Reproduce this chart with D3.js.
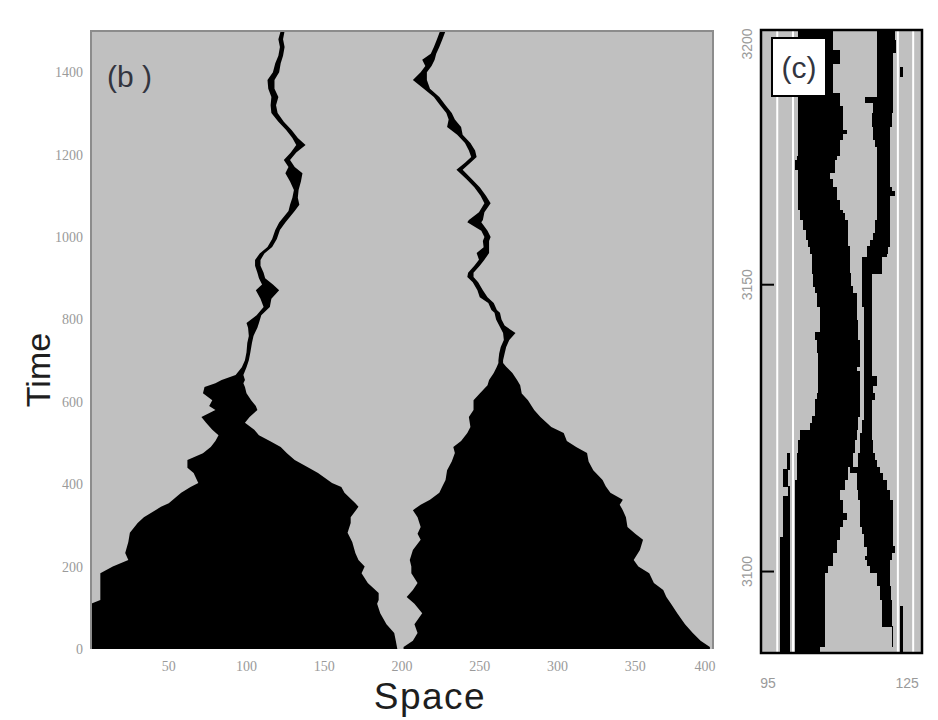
<!DOCTYPE html>
<html>
<head>
<meta charset="utf-8">
<script src="https://cdn.jsdelivr.net/npm/d3@7/dist/d3.min.js"></script>
<style>
  html, body { margin: 0; padding: 0; background: #ffffff; }
  svg { display: block; }
  .tick-b { font-family: "Liberation Serif", "DejaVu Serif", serif; font-size: 14px; fill: #9a9a9a; }
  .tick-c { font-family: "Liberation Sans", Arial, sans-serif; font-size: 14px; fill: #9a9a9a; }
</style>
</head>
<body>
<svg id="chart" width="938" height="720"></svg>
<script>
// ---------- Panel (b): space-time diagram, rows are [time, leftEdge, rightEdge] ----------
const spaceTicks = [50, 100, 150, 200, 250, 300, 350, 400];
const timeTicks = [0, 200, 400, 600, 800, 1000, 1200, 1400];

// black domain grown from the left seed (cone, then a wandering wall)
const leftFront = [
  [0, 0, 197], [20, 0, 196], [39, 0, 195], [60, 0, 190], [87, 0, 186], [110, 0, 184],
  [119, 6, 185], [136, 6, 185], [160, 6, 178], [184, 6, 174], [200, 14, 176], [216, 24, 172],
  [233, 22, 170], [260, 24, 168], [282, 25, 165], [306, 30, 167], [320, 34, 167], [345, 45, 172],
  [354, 50, 170], [379, 58, 163], [393, 64, 161], [403, 69, 155], [427, 66, 146], [440, 62, 140],
  [459, 62, 131], [475, 72, 126], [490, 77, 122], [505, 80, 115], [519, 82, 108], [532, 78, 105],
  [549, 74, 99], [563, 71, 102], [580, 80, 107], [590, 76, 106], [604, 78, 103], [621, 72, 100],
  [636, 73, 99], [645, 80, 98], [653, 84, 99], [665, 93, 98], [684, 97, 100], [701, 99, 101.5],
  [720, 100, 102.5], [743, 100.5, 103.5], [760, 101.5, 104.5], [780, 101, 107], [791, 100, 108],
  [810, 106.5, 109.5], [830, 111, 115], [850, 109, 116], [871, 106, 121], [885, 110, 117],
  [900, 108, 112], [913, 107, 111], [930, 105.5, 109], [944, 105.5, 109], [960, 108.5, 111.5],
  [976, 113.5, 116.5], [995, 116.5, 119.5], [1017, 118.5, 121.5], [1035, 121, 125],
  [1049, 124, 128], [1063, 127, 131], [1078, 128, 134], [1095, 129.5, 133], [1114, 130.5, 133.5],
  [1135, 128, 135], [1155, 125, 136], [1170, 127, 131], [1187, 124, 128], [1205, 128.5, 132],
  [1223, 132, 138], [1240, 129.5, 133], [1260, 125.5, 129], [1280, 120.5, 124], [1301, 116, 120],
  [1320, 115.5, 119], [1340, 116, 120.5], [1360, 114, 118], [1381, 113.5, 118], [1400, 117, 121],
  [1422, 118.5, 122], [1440, 120.5, 123.5], [1461, 121.5, 124.5], [1480, 120.5, 123.5],
  [1500, 122, 124.5]
];

// black domain grown from the right seed
const rightFront = [
  [0, 201, 398], [5, 201, 398], [20, 207, 392], [39, 210, 387], [60, 208, 382], [87, 213, 377],
  [110, 208, 373], [126, 203, 370], [143, 207, 368], [160, 210, 362], [184, 206, 359],
  [200, 206, 352], [216, 205, 349], [240, 207, 353], [265, 212, 355], [280, 210, 350],
  [296, 212, 345], [320, 210, 344], [337, 207, 342], [350, 212, 340], [362, 218, 342],
  [379, 224, 334], [395, 226, 331], [410, 228, 329], [434, 229, 323], [455, 232, 320],
  [476, 234, 319], [490, 233, 312], [505, 238, 306], [524, 242, 304], [539, 244, 296],
  [563, 243, 289], [580, 246, 285], [604, 246, 281], [620, 250, 277], [640, 255, 276],
  [653, 256, 274], [670, 259, 271], [685, 261, 267], [694, 262, 265], [701, 262, 265],
  [717, 262.5, 266], [733, 263.5, 267], [750, 265.5, 269], [767, 265, 273], [785, 262.5, 266],
  [800, 260.5, 264], [816, 259.5, 263], [823, 257.5, 261], [840, 255.5, 259], [854, 250, 255],
  [871, 248.5, 252], [890, 245.5, 249], [903, 242, 246], [913, 242.5, 246], [930, 246.5, 250],
  [945, 249.5, 253], [961, 248, 256], [975, 252.5, 256], [990, 252, 256], [1000, 253, 257],
  [1015, 251, 255], [1036, 242, 251], [1041, 243, 252], [1060, 249.5, 253], [1082, 253, 257],
  [1100, 250.5, 254], [1121, 246.5, 250], [1140, 241.5, 245], [1163, 235, 239], [1180, 240.5, 244],
  [1194, 244.5, 248], [1210, 243, 247], [1228, 240.5, 244], [1248, 235.5, 239], [1267, 229, 238],
  [1285, 230, 234], [1301, 228.5, 232], [1320, 224.5, 228], [1340, 220.5, 224], [1360, 214, 218],
  [1381, 207, 216], [1400, 212, 216], [1415, 215, 219], [1430, 213, 221], [1445, 218.5, 222],
  [1461, 220.5, 224], [1480, 222.5, 226], [1500, 224.5, 228]
];

// ---------- Panel (c): close-up, rows are [time, left, right], held down to the next row ----------
const zoomSpaceTicks = [95, 125];
const zoomTimeTicks = [3100, 3150];
const zoomTimeLabels = [3100, 3150, 3200];
const zoomGuides = [97.0, 100.4, 123.0, 126.3];

const zoomBandMain = [
  [3194.4, 101.5, 109.1], [3190.9, 101.5, 110.5], [3188.6, 101.5, 109.1], [3183.4, 101.5, 110.5],
  [3181.1, 101.5, 111.2], [3177.0, 101.5, 112.0], [3176.4, 101.5, 111.2], [3175.3, 101.5, 110.5],
  [3172.5, 101.2, 109.8], [3171.8, 100.8, 109.4], [3170.0, 101.5, 109.4], [3169.5, 101.5, 108.4],
  [3168.5, 101.5, 109.1], [3167.1, 101.5, 109.8], [3164.8, 101.5, 110.5], [3163.1, 101.9, 111.2],
  [3162.5, 101.9, 111.6], [3161.3, 102.6, 112.3], [3159.6, 103.3, 112.3], [3157.8, 103.7, 112.3],
  [3156.7, 104.1, 112.7], [3155.5, 104.4, 112.7], [3152.0, 104.8, 113.0], [3149.7, 105.1, 113.4],
  [3148.6, 105.5, 114.1], [3146.2, 106.2, 114.1], [3143.9, 106.2, 114.5], [3141.8, 105.1, 114.5],
  [3140.4, 105.5, 114.8], [3138.1, 105.8, 114.8], [3135.8, 105.8, 114.1], [3135.0, 105.8, 114.8],
  [3131.1, 105.5, 114.8], [3130.0, 105.1, 114.8], [3127.1, 104.4, 114.5], [3125.9, 104.1, 114.5],
  [3124.7, 101.9, 114.1], [3123.0, 101.5, 113.8], [3120.7, 101.2, 113.4], [3118.3, 101.2, 112.3],
  [3116.0, 100.8, 111.6], [3114.3, 100.8, 110.5], [3112.5, 100.8, 111.2], [3110.2, 100.8, 112.0],
  [3109.0, 100.8, 111.2], [3107.9, 100.8, 110.5], [3105.6, 100.8, 109.8], [3103.3, 100.8, 109.1],
  [3101.0, 100.8, 108.0], [3099.8, 100.8, 107.3], [3088.2, 100.8, 107.3], [3087.0, 100.8, 106.2],
  [3085.8, 100.8, 100.8]
];

const zoomBandLeft = [
  [3120.7, 99.0, 99.75], [3117.8, 98.3, 99.3], [3114.9, 99.3, 99.75], [3113.1, 98.3, 99.75],
  [3106.0, 97.6, 99.75], [3085.8, 97.6, 97.6]
];

const zoomBandRight = [
  [3194.4, 118.4, 122.4], [3192.7, 118.4, 122.7], [3190.4, 118.4, 122.0], [3182.8, 116.0, 122.0],
  [3181.7, 117.7, 122.0], [3180.0, 117.4, 121.7], [3177.6, 117.7, 121.3], [3175.3, 118.1, 121.3],
  [3174.1, 118.4, 121.3], [3167.1, 118.4, 121.7], [3166.3, 118.4, 122.4], [3165.5, 118.4, 121.3],
  [3161.3, 118.1, 121.3], [3159.0, 117.7, 121.3], [3157.8, 117.0, 121.3], [3156.7, 116.3, 120.9],
  [3155.5, 116.3, 120.6], [3154.9, 115.2, 119.5], [3152.0, 115.2, 117.4], [3146.2, 115.6, 117.4],
  [3140.4, 115.6, 117.4], [3134.0, 115.6, 118.4], [3132.5, 115.6, 117.7], [3131.1, 115.6, 118.1],
  [3130.0, 115.6, 117.4], [3126.5, 115.2, 117.4], [3124.2, 114.8, 117.4], [3123.0, 114.8, 117.7],
  [3120.7, 114.5, 118.1], [3119.5, 114.5, 118.4], [3118.3, 112.7, 119.2], [3117.2, 114.1, 119.9],
  [3116.0, 114.1, 120.6], [3114.3, 114.5, 121.3], [3112.5, 114.8, 122.0], [3107.9, 115.2, 122.0],
  [3106.7, 115.6, 122.0], [3104.4, 116.3, 122.4], [3103.3, 116.3, 121.7], [3102.7, 115.9, 121.7],
  [3102.1, 116.3, 121.3], [3101.0, 117.0, 121.3], [3099.8, 118.4, 121.3], [3097.5, 119.2, 121.5],
  [3095.1, 119.5, 121.7], [3090.5, 121.7, 122.0], [3087.0, 121.7, 121.7]
];

const zoomSpeckTop = [[3188.0, 123.5, 124.2], [3186.3, 123.5, 123.5]];
const zoomSpeckBottom = [[3094.0, 123.5, 124.2], [3085.8, 123.5, 123.5]];

// ---------- drawing ----------
const svg = d3.select("#chart");
const GREY = "#c0c0c0";

// Panel (b)
const xB = d3.scaleLinear().domain([0, 400]).range([91, 713]);
const yB = d3.scaleLinear().domain([0, 1500]).range([649, 31]);

svg.append("clipPath").attr("id", "clipB")
  .append("rect")
  .attr("x", xB(0)).attr("y", yB(1500))
  .attr("width", xB(400) - xB(0)).attr("height", yB(0) - yB(1500));

const gB = svg.append("g");
gB.append("rect")
  .attr("x", xB(0)).attr("y", yB(1500))
  .attr("width", xB(400) - xB(0)).attr("height", yB(0) - yB(1500))
  .attr("fill", GREY);

const frontArea = d3.area()
  .y(d => yB(d[0]))
  .x0(d => xB(d[1]))
  .x1(d => xB(d[2]))
  .curve(d3.curveLinear);

const gFronts = gB.append("g").attr("clip-path", "url(#clipB)");
[leftFront, rightFront].forEach(front => {
  gFronts.append("path").attr("d", frontArea(front)).attr("fill", "#000");
});

// frame of panel (b)
gB.append("path")
  .attr("d", `M${xB(0)},${yB(0)}V${yB(1500)}H${xB(400)}V${yB(0)}`)
  .attr("fill", "none").attr("stroke", "#8c8c8c").attr("stroke-width", 2);

gB.selectAll(".ty").data(timeTicks).join("text")
  .attr("class", "tick-b")
  .attr("x", 83).attr("y", d => yB(d)).attr("dy", "0.35em")
  .attr("text-anchor", "end")
  .text(d => d);

gB.selectAll(".tx").data(spaceTicks).join("text")
  .attr("class", "tick-b")
  .attr("x", d => Math.min(xB(d), 705)).attr("y", 671)
  .attr("text-anchor", "middle")
  .text(d => d);

gB.append("text")
  .attr("x", 107).attr("y", 87)
  .attr("font-family", "Liberation Sans, Arial, sans-serif")
  .attr("font-size", 30).attr("fill", "#33353f")
  .text("(b )");

svg.append("text")
  .attr("x", 430).attr("y", 709)
  .attr("text-anchor", "middle")
  .attr("font-family", "Liberation Sans, Arial, sans-serif")
  .attr("font-size", 37).attr("letter-spacing", 1.5).attr("fill", "#1e1e1e")
  .text("Space");

svg.append("text")
  .attr("transform", "translate(50,370) rotate(-90)")
  .attr("text-anchor", "middle")
  .attr("font-family", "Liberation Sans, Arial, sans-serif")
  .attr("font-size", 34).attr("fill", "#1e1e1e")
  .text("Time");

// Panel (c)
const xC = d3.scaleLinear().domain([93.5, 128.2]).range([761, 922]);
const yC = d3.scaleLinear().domain([3085.8, 3194.4]).range([653, 30]);

const gC = svg.append("g");
gC.append("rect")
  .attr("x", xC(93.5)).attr("y", yC(3194.4))
  .attr("width", xC(128.2) - xC(93.5)).attr("height", yC(3085.8) - yC(3194.4))
  .attr("fill", GREY);

gC.selectAll(".guide").data(zoomGuides).join("line")
  .attr("x1", d => xC(d)).attr("x2", d => xC(d))
  .attr("y1", yC(3194.4)).attr("y2", yC(3085.8))
  .attr("stroke", "#ffffff").attr("stroke-width", 2);

function drawBand(rows) {
  const cells = rows.slice(0, -1).map((r, i) => ({ t0: r[0], t1: rows[i + 1][0], l: r[1], r: r[2] }));
  gC.append("g").selectAll("rect").data(cells).join("rect")
    .attr("x", d => xC(d.l))
    .attr("y", d => yC(d.t0))
    .attr("width", d => xC(d.r) - xC(d.l))
    .attr("height", d => yC(d.t1) - yC(d.t0) + 0.5)
    .attr("fill", "#000")
    .attr("shape-rendering", "crispEdges");
}
[zoomBandMain, zoomBandLeft, zoomBandRight, zoomSpeckTop, zoomSpeckBottom].forEach(drawBand);

gC.selectAll(".tickc").data(zoomTimeTicks).join("line")
  .attr("x1", xC(93.5)).attr("x2", xC(93.5) + 13)
  .attr("y1", d => yC(d)).attr("y2", d => yC(d))
  .attr("stroke", "#000").attr("stroke-width", 2);

gC.append("rect")
  .attr("x", xC(93.5)).attr("y", yC(3194.4))
  .attr("width", xC(128.2) - xC(93.5)).attr("height", yC(3085.8) - yC(3194.4))
  .attr("fill", "none").attr("stroke", "#000").attr("stroke-width", 2.5);

gC.selectAll(".ly").data(zoomTimeLabels).join("text")
  .attr("class", "tick-c")
  .attr("transform", d => `translate(752,${Math.max(yC(d), 44)}) rotate(-90)`)
  .attr("text-anchor", "middle")
  .text(d => d);

gC.selectAll(".lx").data(zoomSpaceTicks).join("text")
  .attr("class", "tick-c")
  .attr("font-size", 16)
  .attr("x", d => xC(d)).attr("y", 688)
  .attr("text-anchor", "middle")
  .text(d => d);

// label box for (c)
gC.append("rect")
  .attr("x", 772).attr("y", 38).attr("width", 54).attr("height", 58)
  .attr("fill", "#ffffff").attr("stroke", "#000").attr("stroke-width", 2);
gC.append("text")
  .attr("x", 799).attr("y", 78)
  .attr("text-anchor", "middle")
  .attr("font-family", "Liberation Sans, Arial, sans-serif")
  .attr("font-size", 30).attr("fill", "#33353f")
  .text("(c)");
</script>
</body>
</html>
